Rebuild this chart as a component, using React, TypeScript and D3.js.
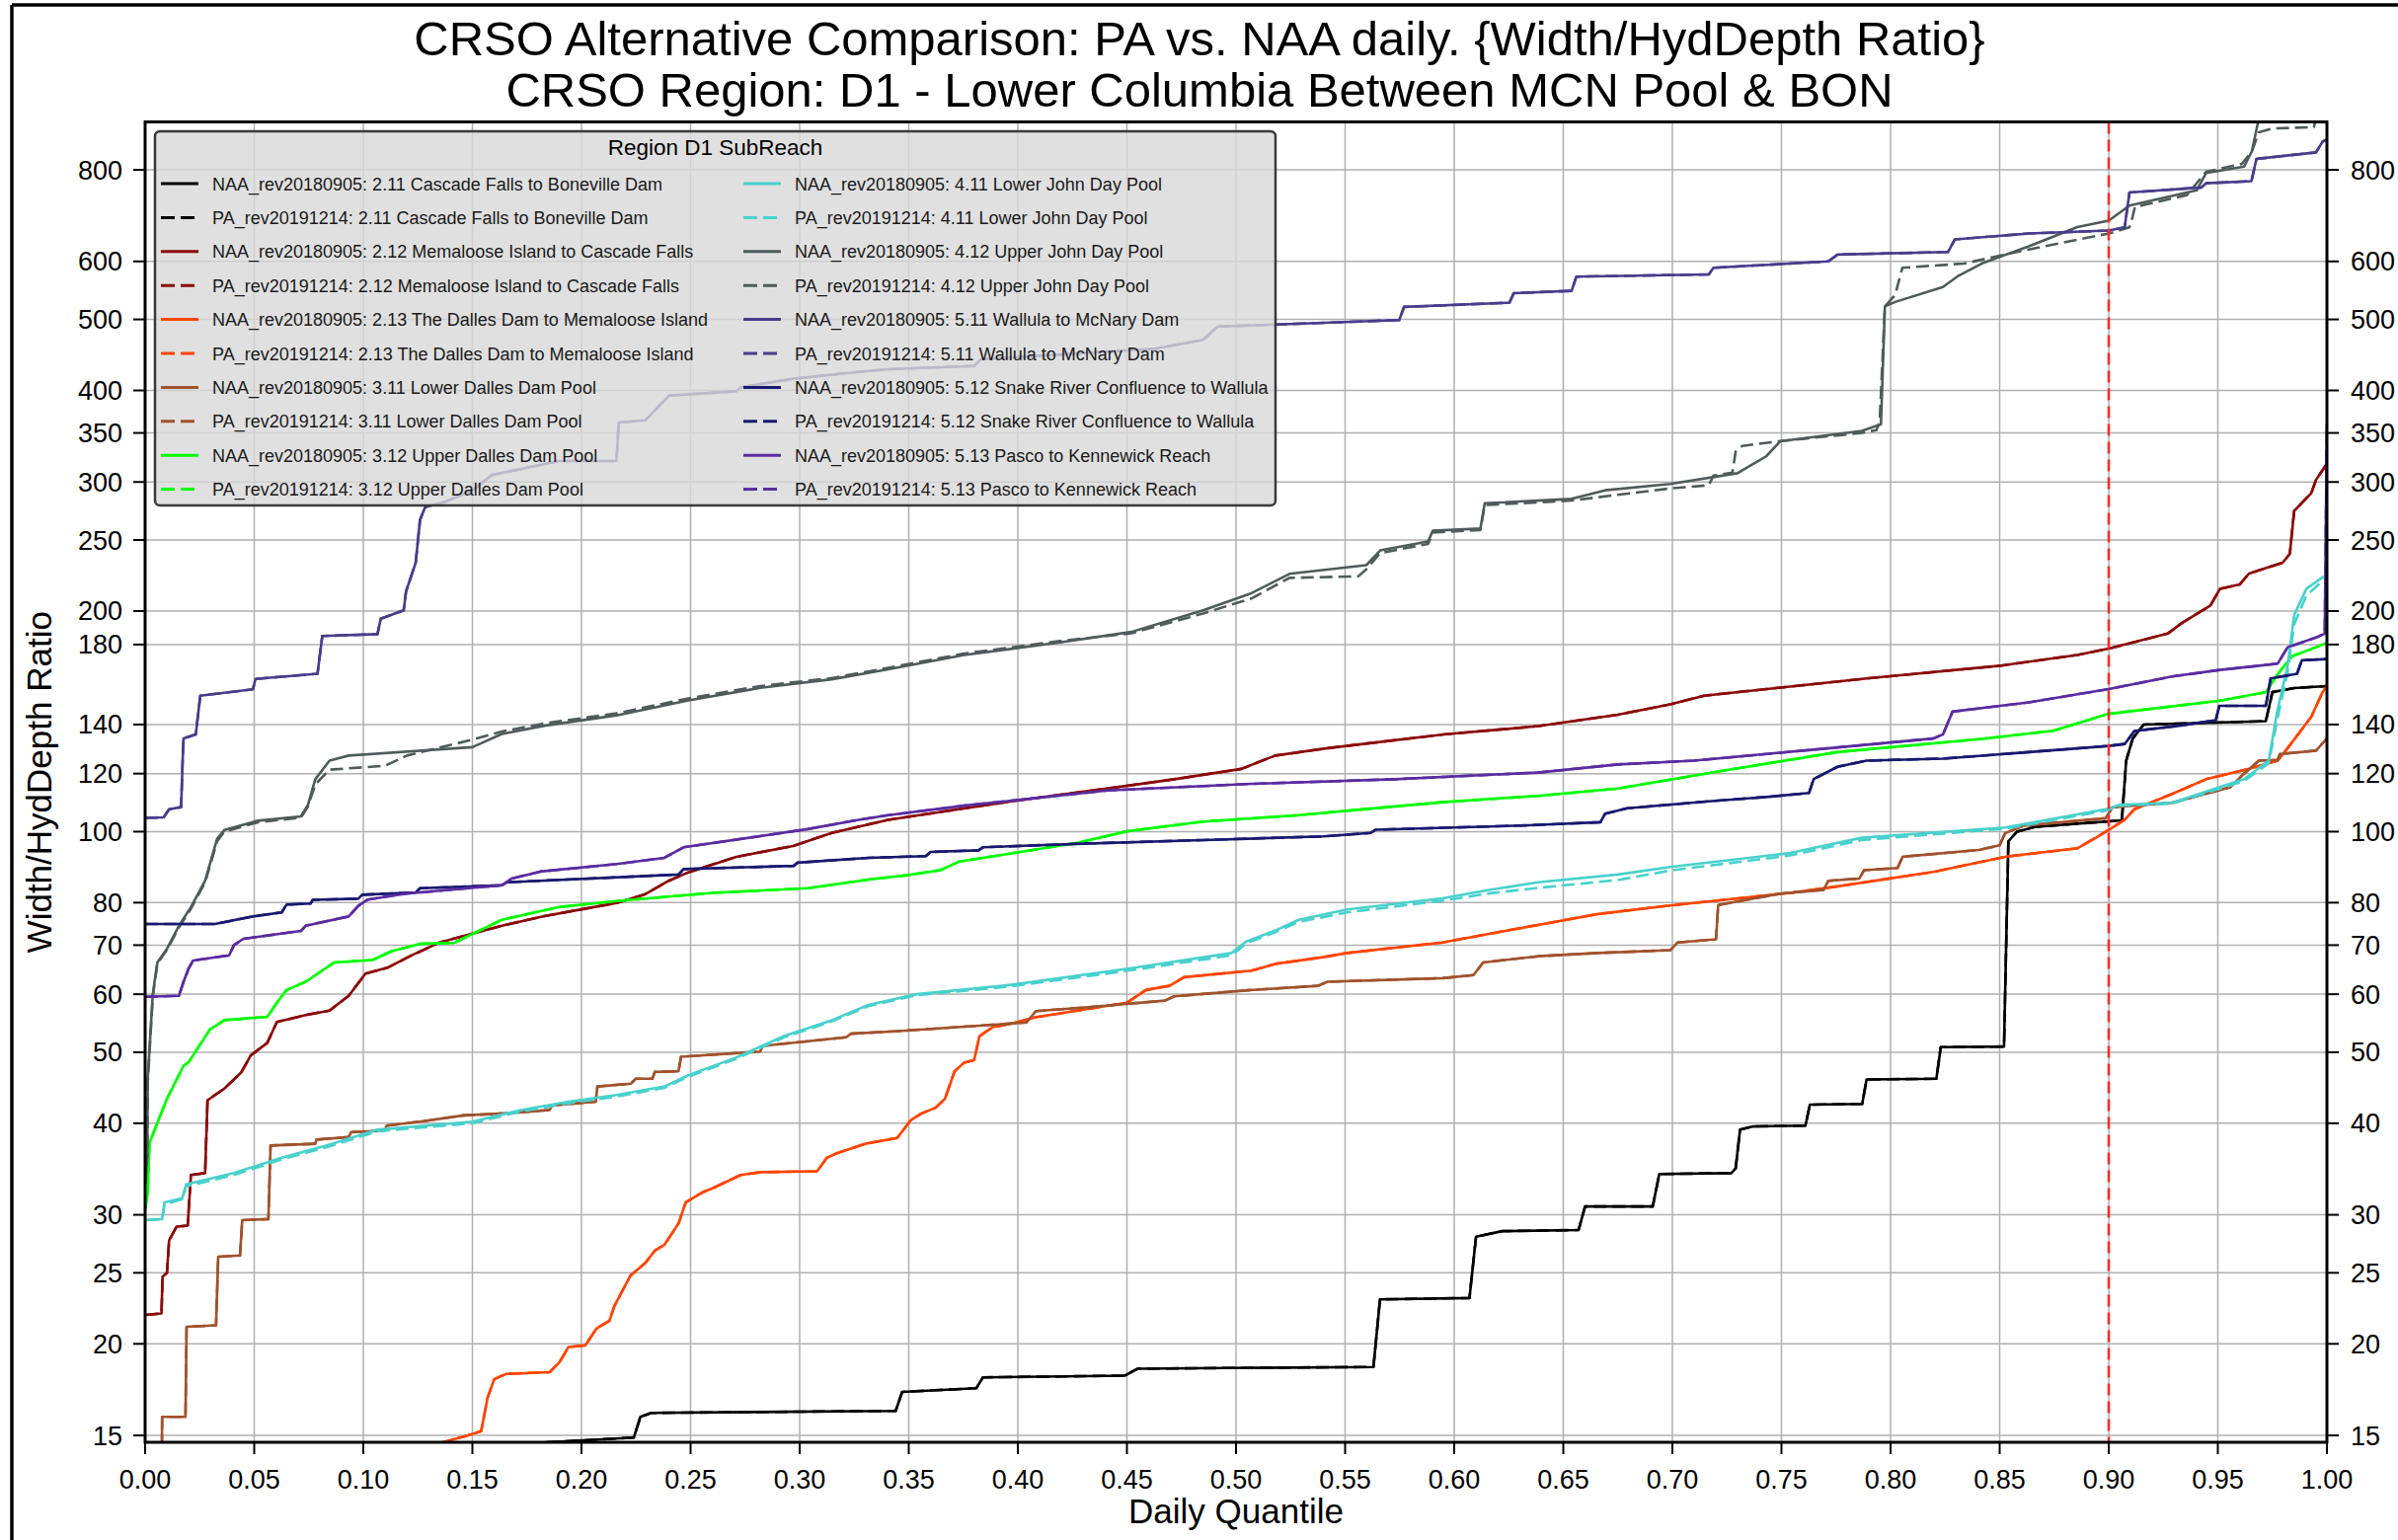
import React from 'react';
import * as d3 from 'd3';

// ---------- tick labels ----------
const xTickValues = [0, 0.05, 0.1, 0.15, 0.2, 0.25, 0.3, 0.35, 0.4, 0.45, 0.5, 0.55, 0.6, 0.65, 0.7, 0.75, 0.8, 0.85, 0.9, 0.95, 1.0];
const yTickValues = [15, 20, 25, 30, 40, 50, 60, 70, 80, 100, 120, 140, 180, 200, 250, 300, 350, 400, 500, 600, 800];
const yDomain = [14.68, 930];
const refQuantile = 0.9;

// ---------- series data: [daily quantile, width/hyddepth ratio] ----------
const naa_2_11 = [[0, 11], [0.17, 14.6], [0.224, 14.9], [0.227, 15.9], [0.232, 16.1], [0.344, 16.2], [0.347, 17.2], [0.381, 17.4], [0.384, 18.0], [0.449, 18.1], [0.455, 18.5], [0.563, 18.6], [0.566, 23.0], [0.607, 23.1], [0.61, 28.0], [0.622, 28.5], [0.657, 28.6], [0.66, 30.8], [0.691, 30.8], [0.694, 34.1], [0.727, 34.2], [0.729, 34.7], [0.731, 39.2], [0.737, 39.6], [0.761, 39.7], [0.763, 42.4], [0.787, 42.5], [0.789, 45.9], [0.821, 46.0], [0.823, 50.8], [0.852, 50.9], [0.854, 97], [0.858, 100], [0.866, 101.5], [0.906, 103.6], [0.908, 125], [0.911, 134], [0.916, 140], [0.972, 141.5], [0.975, 155], [0.985, 157], [1.0, 158]];
const pa_2_11 = naa_2_11;

const naa_2_12 = [[0, 21.9], [0.0075, 22.0], [0.008, 24.7], [0.01, 25.0], [0.011, 27.7], [0.0144, 28.9], [0.0195, 29.0], [0.021, 34.0], [0.0275, 34.2], [0.0286, 43.0], [0.0363, 44.6], [0.044, 46.9], [0.0484, 49.5], [0.056, 51.5], [0.0604, 55.0], [0.0736, 56.2], [0.0845, 57.0], [0.0933, 59.7], [0.101, 64.0], [0.111, 65.2], [0.1218, 67.7], [0.135, 70.6], [0.15, 72.6], [0.1635, 74.4], [0.183, 76.7], [0.2007, 78.4], [0.216, 79.9], [0.229, 82.1], [0.24, 85.7], [0.249, 88.0], [0.271, 92.4], [0.297, 95.6], [0.3147, 99.6], [0.3406, 103.8], [0.397, 110], [0.4455, 115], [0.4717, 117.9], [0.5025, 121.8], [0.518, 127], [0.542, 130], [0.595, 135.7], [0.6386, 139.3], [0.675, 144.4], [0.699, 149.2], [0.7146, 153.3], [0.789, 161.8], [0.85, 168.4], [0.8856, 174.2], [0.9, 177.7], [0.927, 186.3], [0.9335, 192.6], [0.9466, 203.5], [0.951, 214.5], [0.96, 217.4], [0.9643, 225], [0.9797, 232.8], [0.983, 239.4], [0.985, 274], [0.9928, 289.6], [0.995, 302], [0.999, 314.6], [1.0, 318]];
const pa_2_12 = naa_2_12;

const naa_2_13 = [[0, 10], [0.13, 14.5], [0.148, 15.0], [0.154, 15.2], [0.157, 16.9], [0.16, 17.9], [0.1655, 18.2], [0.1855, 18.3], [0.19, 18.9], [0.194, 19.8], [0.2017, 19.9], [0.207, 21.0], [0.2128, 21.5], [0.215, 22.5], [0.2225, 24.8], [0.2293, 25.8], [0.2336, 26.8], [0.238, 27.3], [0.2445, 29.2], [0.2478, 31.2], [0.2555, 32.2], [0.26, 32.6], [0.273, 34.0], [0.282, 34.3], [0.308, 34.4], [0.3125, 35.9], [0.317, 36.4], [0.33, 37.5], [0.3447, 38.2], [0.351, 40.4], [0.3555, 41.2], [0.3623, 42.0], [0.3666, 43.2], [0.371, 47.1], [0.3754, 48.4], [0.38, 48.8], [0.3824, 52.6], [0.3885, 54.1], [0.397, 54.7], [0.408, 55.8], [0.4499, 58.4], [0.4587, 60.8], [0.4695, 61.6], [0.4762, 63.3], [0.507, 64.6], [0.518, 66.0], [0.5398, 67.4], [0.551, 68.3], [0.5946, 70.6], [0.6166, 72.6], [0.6384, 74.6], [0.666, 77.2], [0.699, 79.3], [0.754, 82.5], [0.7757, 84.2], [0.8195, 88.1], [0.8525, 92.4], [0.8856, 94.9], [0.8943, 98.2], [0.9008, 100.9], [0.9073, 103.8], [0.9118, 107.3], [0.929, 112.6], [0.9446, 117.9], [0.9643, 121.8], [0.9774, 125], [0.982, 130], [0.9928, 143.4], [0.998, 155], [1.0, 158]];
const pa_2_13 = naa_2_13;

const naa_3_11 = [[0, 12], [0.0075, 12], [0.0078, 15.9], [0.0185, 15.9], [0.019, 21.1], [0.0325, 21.2], [0.0335, 26.3], [0.0435, 26.4], [0.0445, 29.5], [0.0565, 29.6], [0.0575, 37.3], [0.078, 37.5], [0.0785, 38.0], [0.0933, 38.3], [0.0944, 38.9], [0.1097, 39.1], [0.1108, 39.7], [0.1284, 40.3], [0.1459, 41.0], [0.168, 41.3], [0.1854, 41.7], [0.1865, 42.3], [0.1986, 42.6], [0.2065, 42.8], [0.2073, 44.9], [0.2227, 45.3], [0.2248, 46.0], [0.2325, 46.0], [0.2336, 47.0], [0.2445, 47.1], [0.2456, 49.3], [0.2819, 50.1], [0.283, 51.0], [0.3213, 52.4], [0.3235, 53.0], [0.3436, 53.4], [0.4039, 54.9], [0.4083, 56.9], [0.4324, 57.6], [0.4674, 58.8], [0.4717, 59.6], [0.5069, 60.8], [0.5376, 61.6], [0.5419, 62.4], [0.5946, 63.1], [0.6088, 63.7], [0.6133, 66.3], [0.6384, 67.6], [0.666, 68.3], [0.699, 68.9], [0.7024, 70.6], [0.72, 71.3], [0.721, 79.4], [0.7494, 82.3], [0.7693, 83.3], [0.7715, 85.7], [0.7857, 86.3], [0.7879, 88.6], [0.8032, 89.2], [0.8055, 92.4], [0.8404, 94.4], [0.85, 95.8], [0.8525, 99.5], [0.861, 101.9], [0.8986, 104.3], [0.9018, 108], [0.929, 109.5], [0.9557, 115], [0.962, 120], [0.9688, 125], [0.9774, 125.3], [0.9785, 127.6], [0.995, 129], [0.999, 133], [1.0, 134]];
const pa_3_11 = naa_3_11;

const naa_3_12 = [[0, 30.5], [0.0012, 32.2], [0.002, 37.6], [0.01, 43.2], [0.0176, 47.9], [0.02, 48.5], [0.0297, 53.7], [0.0363, 55.3], [0.056, 55.9], [0.0604, 58.4], [0.0648, 60.8], [0.0736, 62.4], [0.0867, 66.3], [0.1042, 66.8], [0.113, 68.7], [0.1262, 70.3], [0.1416, 70.5], [0.1635, 75.8], [0.172, 76.8], [0.1898, 78.9], [0.216, 80.4], [0.26, 82.5], [0.3037, 83.7], [0.3315, 86.0], [0.349, 87.2], [0.3644, 88.6], [0.373, 91.0], [0.397, 93.4], [0.4279, 96.6], [0.4499, 100.1], [0.4849, 103.2], [0.5287, 105.3], [0.5617, 107.5], [0.5946, 109.7], [0.6384, 111.9], [0.675, 114.5], [0.721, 120.8], [0.7757, 128.4], [0.8417, 133.8], [0.8745, 137.3], [0.9, 144.8], [0.951, 150.9], [0.972, 155], [0.9774, 164], [0.984, 173.5], [0.995, 178.5], [1.0, 181]];
const pa_3_12 = naa_3_12;

const naa_4_11 = [[0, 29.5], [0.0078, 29.6], [0.0089, 31.2], [0.017, 31.6], [0.0188, 33.0], [0.0407, 34.2], [0.0626, 35.9], [0.0845, 37.4], [0.1065, 39.2], [0.15, 40.2], [0.1722, 41.7], [0.194, 42.8], [0.216, 43.7], [0.238, 44.9], [0.249, 46.5], [0.271, 49.2], [0.2928, 52.6], [0.3148, 55.3], [0.3315, 58.0], [0.3535, 60.0], [0.397, 61.8], [0.452, 65.1], [0.498, 68.3], [0.5047, 70.8], [0.518, 73.3], [0.5287, 75.8], [0.551, 78.3], [0.5946, 81.1], [0.6166, 83.3], [0.6384, 85.3], [0.675, 87.4], [0.699, 89.5], [0.754, 93.5], [0.7868, 98.1], [0.8525, 101.3], [0.8986, 107.3], [0.905, 108.8], [0.929, 109.5], [0.962, 117.9], [0.9733, 125], [0.9774, 146.8], [0.982, 168.4], [0.985, 197.6], [0.9906, 214.5], [0.9973, 221.6], [1.0, 224]];
const pa_4_11 = [[0, 29.5], [0.0078, 29.6], [0.0089, 31.0], [0.017, 31.5], [0.0188, 32.8], [0.0407, 34.0], [0.0626, 35.7], [0.0845, 37.2], [0.1065, 39.0], [0.15, 40.0], [0.1722, 41.5], [0.194, 42.6], [0.216, 43.5], [0.238, 44.7], [0.249, 46.3], [0.271, 49.0], [0.2928, 52.4], [0.3148, 55.1], [0.3315, 57.8], [0.3535, 59.8], [0.397, 61.5], [0.452, 64.7], [0.498, 67.8], [0.5047, 70.4], [0.518, 72.9], [0.5287, 75.3], [0.551, 77.6], [0.5946, 80.5], [0.6166, 82.4], [0.6384, 83.8], [0.675, 85.9], [0.699, 88.5], [0.754, 92.8], [0.7868, 97.4], [0.8525, 100.9], [0.8986, 106.8], [0.905, 108.5], [0.929, 109.2], [0.962, 117.2], [0.9733, 124], [0.9774, 143], [0.982, 165], [0.985, 192], [0.9906, 210], [0.9973, 219], [1.0, 222]];

const naa_4_12 = [[0, 33], [0.001, 36.2], [0.0012, 46.0], [0.0035, 60.0], [0.0056, 66.3], [0.01, 69.2], [0.0155, 74.4], [0.021, 78.9], [0.0275, 85.7], [0.033, 97.8], [0.0363, 100.5], [0.0517, 103.5], [0.0714, 104.9], [0.0746, 108.7], [0.078, 117.9], [0.0845, 125], [0.0933, 127], [0.15, 130.4], [0.1635, 135.9], [0.183, 139.5], [0.216, 144.1], [0.249, 151], [0.282, 157.1], [0.3147, 161.4], [0.3406, 166.5], [0.3754, 174.2], [0.4193, 181.2], [0.452, 187.3], [0.4849, 200.4], [0.507, 211.5], [0.5245, 224.8], [0.5597, 231], [0.5661, 242], [0.588, 248.8], [0.5902, 257.4], [0.612, 259.2], [0.614, 280.6], [0.6538, 284.5], [0.6692, 292.3], [0.699, 298.2], [0.7298, 308.4], [0.743, 325.2], [0.7494, 340.9], [0.7868, 352.3], [0.7956, 359.6], [0.7974, 521], [0.8021, 528.2], [0.824, 553.6], [0.8307, 572.4], [0.8417, 595.8], [0.8634, 629.3], [0.8856, 668.5], [0.9, 682], [0.9095, 715], [0.9403, 750], [0.9446, 792], [0.962, 808], [0.9656, 848], [0.9688, 940], [1.0, 1000]];
const pa_4_12 = [[0, 33], [0.001, 36.0], [0.0012, 45.5], [0.0035, 59.5], [0.0056, 66.0], [0.01, 69.0], [0.0155, 74.0], [0.021, 78.5], [0.0275, 85.3], [0.033, 97.0], [0.0363, 100.0], [0.0517, 103.0], [0.0714, 104.5], [0.0745, 108], [0.078, 116], [0.0845, 121.5], [0.11, 123], [0.12, 127], [0.15, 133.5], [0.1635, 137], [0.183, 140.5], [0.216, 145], [0.249, 152], [0.282, 158], [0.3147, 162], [0.3406, 167.3], [0.3754, 175], [0.4193, 182], [0.452, 186.5], [0.4849, 198.5], [0.507, 208], [0.5245, 222], [0.556, 223], [0.5597, 228], [0.5661, 240], [0.588, 247], [0.5902, 256], [0.612, 258], [0.614, 279], [0.6538, 283], [0.666, 286], [0.699, 294], [0.7167, 297], [0.7188, 306], [0.7275, 309], [0.729, 330], [0.732, 336], [0.749, 341], [0.7868, 350], [0.7935, 353], [0.795, 362], [0.7974, 521], [0.8021, 540], [0.8054, 588], [0.8336, 596], [0.8634, 623], [0.9, 655], [0.9095, 668], [0.9105, 682], [0.912, 712], [0.9358, 739], [0.9446, 795], [0.961, 815], [0.9656, 848], [0.9688, 900], [0.975, 911], [0.994, 915], [0.996, 960], [1.0, 1000]];

const naa_5_11 = [[0, 104.4], [0.0085, 104.6], [0.011, 107.3], [0.0165, 108], [0.0172, 125], [0.0176, 134], [0.0232, 135.7], [0.0253, 153.3], [0.0494, 156.4], [0.0506, 161.6], [0.079, 164.2], [0.0812, 184.9], [0.1065, 186], [0.108, 195.2], [0.1185, 200.4], [0.1196, 212.8], [0.124, 232.7], [0.126, 266.4], [0.1284, 277.4], [0.137, 281.5], [0.15, 292.3], [0.159, 306.7], [0.1898, 320.5], [0.216, 320.5], [0.2171, 361.6], [0.2292, 364.1], [0.2402, 393.7], [0.271, 398.9], [0.273, 404], [0.2972, 415], [0.3257, 423.6], [0.3406, 427.6], [0.38, 432], [0.383, 441], [0.463, 456], [0.4849, 469], [0.4916, 489], [0.518, 492], [0.5748, 499], [0.577, 520], [0.6253, 527], [0.6273, 543], [0.6538, 547], [0.656, 572], [0.7167, 576], [0.7188, 588], [0.7715, 600], [0.7757, 613], [0.8263, 618], [0.8295, 643], [0.8634, 655], [0.9, 661], [0.9073, 668], [0.9095, 745], [0.9425, 757], [0.9446, 767], [0.9654, 772], [0.9677, 828], [0.995, 845], [0.998, 874], [1.0, 880]];
const pa_5_11 = naa_5_11;

const naa_5_12 = [[0, 74.8], [0.0319, 74.8], [0.0494, 76.6], [0.0626, 77.6], [0.0648, 79.5], [0.0758, 79.8], [0.0769, 80.7], [0.0977, 81.0], [0.0995, 82.0], [0.124, 82.6], [0.126, 83.7], [0.1635, 84.5], [0.166, 85.3], [0.2445, 87.4], [0.2468, 88.9], [0.2972, 89.8], [0.299, 90.7], [0.3315, 92.1], [0.3578, 92.6], [0.36, 93.8], [0.382, 94.3], [0.384, 95.2], [0.43, 96.3], [0.4849, 97.4], [0.5398, 98.5], [0.5617, 99.6], [0.564, 100.6], [0.634, 102], [0.667, 103], [0.6692, 105.8], [0.6793, 107.6], [0.7167, 110], [0.743, 111.5], [0.7626, 112.9], [0.7648, 118], [0.7757, 122.6], [0.789, 125], [0.824, 125.8], [0.8634, 128.4], [0.9, 130.9], [0.9073, 131.7], [0.9118, 137.2], [0.9315, 139.4], [0.949, 141.9], [0.9507, 148.5], [0.972, 148.5], [0.9742, 161.8], [0.9863, 164.2], [0.9885, 171.3], [1.0, 172]];
const pa_5_12 = naa_5_12;

const naa_5_13 = [[0, 59.5], [0.0155, 59.7], [0.0176, 62.4], [0.02, 65.1], [0.022, 66.7], [0.0385, 67.8], [0.0407, 70.0], [0.045, 71.4], [0.0714, 73.2], [0.0736, 74.4], [0.0933, 76.6], [0.0977, 79.2], [0.1021, 80.8], [0.1196, 82.3], [0.1635, 84.5], [0.168, 86.3], [0.181, 88.2], [0.216, 90.3], [0.238, 92.1], [0.2468, 95.2], [0.2819, 98.6], [0.3037, 100.8], [0.3257, 103.6], [0.3406, 105.3], [0.3754, 108.5], [0.441, 113.8], [0.507, 116.2], [0.5727, 117.9], [0.6384, 120.4], [0.675, 123.5], [0.71, 125], [0.7648, 129.4], [0.8195, 134], [0.824, 135.7], [0.8284, 145.8], [0.8634, 150.1], [0.9, 156.5], [0.929, 162.8], [0.951, 166.2], [0.9774, 169.5], [0.982, 178.5], [0.995, 184], [0.999, 186.3], [1.0, 360]];
const pa_5_13 = naa_5_13;

const reachNames = [
  '2.11 Cascade Falls to Boneville Dam',
  '2.12 Memaloose Island to Cascade Falls',
  '2.13 The Dalles Dam to Memaloose Island',
  '3.11 Lower Dalles Dam Pool',
  '3.12 Upper Dalles Dam Pool',
  '4.11 Lower John Day Pool',
  '4.12 Upper John Day Pool',
  '5.11 Wallula to McNary Dam',
  '5.12 Snake River Confluence to Wallula',
  '5.13 Pasco to Kennewick Reach',
];
const reachColors = ['#000000', '#8b0a0a', '#ff4500', '#a0522d', '#00ff00', '#48d1cc', '#4f5b5b', '#483d8b', '#191970', '#5a2ca0'];
const naaSeries = [naa_2_11, naa_2_12, naa_2_13, naa_3_11, naa_3_12, naa_4_11, naa_4_12, naa_5_11, naa_5_12, naa_5_13];
const paSeries = [pa_2_11, pa_2_12, pa_2_13, pa_3_11, pa_3_12, pa_4_11, pa_4_12, pa_5_11, pa_5_12, pa_5_13];
const naaTag = 'NAA_rev20180905';
const paTag = 'PA_rev20191214';

const W = 2429, H = 1560;
const M = { left: 147, right: 2357, top: 123.5, bottom: 1461 };
const FONT = '"Liberation Sans", Arial, Helvetica, sans-serif';
const LW = 2.6;
const DASH = '13,6';

export default function App() {
  const x = d3.scaleLinear().domain([0, 1]).range([M.left, M.right]);
  const y = d3.scaleLog().domain(yDomain).range([M.bottom, M.top]);
  const line = d3.line<number[]>().x(d => x(d[0])).y(d => y(d[1]));

  const legX = 157, legY = 133, legW = 1135, legH = 379;
  const rowY0 = 186, rowStep = 34.4;
  const cols = [{ hx: 163, tx: 215 }, { hx: 753, tx: 805 }];

  const legendItems: any[] = [];
  reachNames.forEach((name, i) => {
    const col = i < 5 ? 0 : 1;
    const r = (i % 5) * 2;
    legendItems.push({ col, row: r, label: `${naaTag}: ${name}`, color: reachColors[i], dashed: false });
    legendItems.push({ col, row: r + 1, label: `${paTag}: ${name}`, color: reachColors[i], dashed: true });
  });

  return (
    <svg width={W} height={H} viewBox={`0 0 ${W} ${H}`} style={{ position: 'absolute', left: 0, top: 0, display: 'block', background: '#fff' }} fontFamily={FONT}>
      <rect x={0} y={0} width={W} height={H} fill="#fff" />
      {/* page frame */}
      <line x1={12} y1={5} x2={W} y2={5} stroke="#000" strokeWidth={3.5} />
      <line x1={12} y1={5} x2={12} y2={H} stroke="#000" strokeWidth={3.5} />

      {/* title */}
      <text x={1215} y={56} textAnchor="middle" fontSize={49} fill="#000">CRSO Alternative Comparison: PA vs. NAA daily. {'{'}Width/HydDepth Ratio{'}'}</text>
      <text x={1215} y={108} textAnchor="middle" fontSize={49} fill="#000">CRSO Region: D1 - Lower Columbia Between MCN Pool &amp; BON</text>

      <defs>
        <clipPath id="plotclip">
          <rect x={M.left} y={M.top} width={M.right - M.left} height={M.bottom - M.top} />
        </clipPath>
      </defs>

      {/* grid */}
      <g stroke="#b0b0b0" strokeWidth={1.5}>
        {xTickValues.map(t => <line key={'gx' + t} x1={x(t)} x2={x(t)} y1={M.top} y2={M.bottom} />)}
        {yTickValues.map(t => <line key={'gy' + t} x1={M.left} x2={M.right} y1={y(t)} y2={y(t)} />)}
      </g>

      {/* data */}
      <g clipPath="url(#plotclip)" fill="none" strokeLinejoin="round">
        {reachNames.map((n, i) => (
          <g key={n}>
            <path d={line(naaSeries[i] as any) || ''} stroke={reachColors[i]} strokeWidth={LW} />
            <path d={line(paSeries[i] as any) || ''} stroke={reachColors[i]} strokeWidth={LW} strokeDasharray={DASH} />
          </g>
        ))}
        <line x1={x(refQuantile)} x2={x(refQuantile)} y1={M.top} y2={M.bottom} stroke="#ff2a2a" strokeWidth={2.6} strokeDasharray="12,6" />
      </g>

      {/* spines */}
      <rect x={M.left} y={M.top} width={M.right - M.left} height={M.bottom - M.top} fill="none" stroke="#000" strokeWidth={3} />

      {/* ticks */}
      <g stroke="#000" strokeWidth={2}>
        {xTickValues.map(t => <line key={'tx' + t} x1={x(t)} x2={x(t)} y1={M.bottom} y2={M.bottom + 12} />)}
        {yTickValues.map(t => <line key={'tl' + t} x1={M.left - 12} x2={M.left} y1={y(t)} y2={y(t)} />)}
        {yTickValues.map(t => <line key={'tr' + t} x1={M.right} x2={M.right + 12} y1={y(t)} y2={y(t)} />)}
      </g>
      <g fontSize={27} fill="#000">
        {xTickValues.map(t => <text key={'lx' + t} x={x(t)} y={1508} textAnchor="middle">{t.toFixed(2)}</text>)}
        {yTickValues.map(t => <text key={'ll' + t} x={124} y={y(t) + 9.5} textAnchor="end">{t}</text>)}
        {yTickValues.map(t => <text key={'lr' + t} x={2381} y={y(t) + 9.5} textAnchor="start">{t}</text>)}
      </g>

      {/* axis labels */}
      <text x={(M.left + M.right) / 2} y={1543} textAnchor="middle" fontSize={35}>Daily Quantile</text>
      <text transform={`translate(52, ${(M.top + M.bottom) / 2}) rotate(-90)`} textAnchor="middle" fontSize={35}>Width/HydDepth Ratio</text>

      {/* legend */}
      <rect x={legX} y={legY} width={legW} height={legH} rx={5} fill="#d8d8d8" fillOpacity={0.8} stroke="#3a3a3a" strokeWidth={2.5} />
      <text x={legX + legW / 2} y={157} textAnchor="middle" fontSize={22.5}>Region D1 SubReach</text>
      {legendItems.map((it, k) => {
        const cy = rowY0 + it.row * rowStep;
        const c = cols[it.col];
        return (
          <g key={'leg' + k}>
            <line x1={c.hx} x2={c.hx + 38} y1={cy} y2={cy} stroke={it.color} strokeWidth={3} strokeDasharray={it.dashed ? '14,6' : undefined} />
            <text x={c.tx} y={cy + 6.5} fontSize={18} fill="#1a1a1a">{it.label}</text>
          </g>
        );
      })}
    </svg>
  );
}
